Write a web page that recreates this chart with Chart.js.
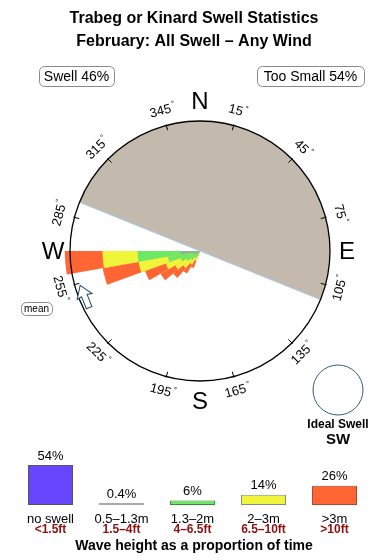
<!DOCTYPE html>
<html>
<head>
<meta charset="utf-8">
<script src="https://cdn.jsdelivr.net/npm/chart.js@4"></script>
<style>
  body { margin: 0; background: #fff; }
  #rose { position: absolute; left: 0; top: 0; }
  #bars { position: absolute; left: 0; top: 430px; }
</style>
</head>
<body>
<canvas id="rose" width="390" height="560"></canvas>
<canvas id="bars" width="390" height="130"></canvas>
<script>
// 10 degree direction bins, clockwise from north
const directions = [0, 10, 20, 30, 40, 50, 60, 70, 80, 90, 100, 110, 120, 130, 140, 150, 160, 170,
  180, 190, 200, 210, 220, 230, 240, 250, 260, 270, 280, 290, 300, 310, 320, 330, 340, 350];

// petals that carry swell (bin start bearing) and the share of each height class
const petalBins = [260, 250, 240, 230, 220, 210, 200];
const swell05to13 = [15, 6, 5, 4, 3, 2, 1];
const swell13to2 = [33, 19, 11, 8, 6, 4, 3];
const swell2to3 = [27, 23, 12, 10, 8, 6, 4];
const swellOver3 = [29, 28, 17, 13, 10, 8, 6];

const degreeTicks = [15, 45, 75, 105, 135, 165, 195, 225, 255, 285, 315, 345];
const compassPoints = ["N", "E", "S", "W"];
const shadowFrom = 292;   // sheltered half of the rose
const shadowTo = 112;
const meanBearing = 248;
const idealSwell = "SW";

const legendClasses = ["no swell", "0.5–1.3m", "1.3–2m", "2–3m", ">3m"];
const legendFeet = ["<1.5ft", "1.5–4ft", "4–6.5ft", "6.5–10ft", ">10ft"];
const legendPct = [54, 0.4, 6, 14, 26];
const legendText = ["54%", "0.4%", "6%", "14%", "26%"];

const RING = 100;            // value drawn on the compass circle
const RMAX = 150 / 1.3;      // scale max so the ring sits inside the chart area
const FONT = "'Liberation Sans', Arial, sans-serif";

// build one full 36-bin series per stacked layer (cumulative, so outer layers sit underneath)
function layer(...parts) {
  const out = directions.map(() => 0);
  petalBins.forEach((b, i) => {
    let sum = 0;
    parts.forEach(p => sum += p[i]);
    out[directions.indexOf(b)] = sum;
  });
  return out;
}

const rad = deg => (deg - 90) * Math.PI / 180;

const roseDecor = {
  id: "roseDecor",
  beforeDatasetsDraw(chart) {
    const ctx = chart.ctx;
    const r = chart.scales.r;
    const cx = r.xCenter, cy = r.yCenter;
    const R = r.getDistanceFromCenterForValue(RING);
    // sheltered half disk
    ctx.save();
    ctx.beginPath();
    ctx.moveTo(cx, cy);
    ctx.arc(cx, cy, R, rad(shadowFrom), rad(shadowTo + 360));
    ctx.closePath();
    ctx.fillStyle = "#c4b9ad";
    ctx.fill();
    ctx.beginPath();
    ctx.moveTo(cx + R * Math.cos(rad(shadowFrom)), cy + R * Math.sin(rad(shadowFrom)));
    ctx.lineTo(cx + R * Math.cos(rad(shadowTo)), cy + R * Math.sin(rad(shadowTo)));
    ctx.strokeStyle = "#a9cbe6";
    ctx.lineWidth = 1;
    ctx.stroke();
    ctx.restore();
  },
  afterDatasetsDraw(chart) {
    const ctx = chart.ctx;
    const r = chart.scales.r;
    const cx = r.xCenter, cy = r.yCenter;
    const R = r.getDistanceFromCenterForValue(RING);
    ctx.save();

    // titles
    ctx.fillStyle = "#000";
    ctx.textAlign = "center";
    ctx.textBaseline = "middle";
    ctx.font = "bold 16px " + FONT;
    ctx.fillText("Trabeg or Kinard Swell Statistics", 194, 19);
    ctx.fillText("February: All Swell – Any Wind", 194, 42);

    // swell / too small boxes
    const box = (x, y, w, h, txt, size) => {
      ctx.beginPath();
      ctx.roundRect(x + 0.5, y + 0.5, w, h, 5);
      ctx.strokeStyle = "#8a8a8a";
      ctx.lineWidth = 1;
      ctx.stroke();
      ctx.fillStyle = "#000";
      ctx.font = size + "px " + FONT;
      ctx.fillText(txt, x + w / 2, y + h / 2 + 1);
    };
    box(39, 66, 75, 20, "Swell 46%", 14);
    box(257, 66, 107, 20, "Too Small 54%", 14);
    box(21, 302, 31, 13, "mean", 10);

    // ring and ticks
    ctx.beginPath();
    ctx.arc(cx, cy, R, 0, Math.PI * 2);
    ctx.strokeStyle = "#000";
    ctx.lineWidth = 1.3;
    ctx.stroke();
    ctx.lineWidth = 1;
    degreeTicks.forEach(b => {
      const a = rad(b);
      ctx.beginPath();
      ctx.moveTo(cx + (R - 5) * Math.cos(a), cy + (R - 5) * Math.sin(a));
      ctx.lineTo(cx + (R + 1) * Math.cos(a), cy + (R + 1) * Math.sin(a));
      ctx.stroke();
      const lx = cx + (R + 15) * Math.cos(a), ly = cy + (R + 15) * Math.sin(a);
      const rot = (b > 90 && b < 270) ? b - 180 : (b > 180 ? b - 360 : b);
      ctx.save();
      ctx.translate(lx, ly);
      ctx.rotate(rot * Math.PI / 180);
      ctx.font = "13px " + FONT;
      const txt = String(b);
      const w = ctx.measureText(txt).width;
      ctx.fillText(txt, -2, 0);
      ctx.font = "8px " + FONT;
      ctx.fillText("°", w / 2 + 1, -4);
      ctx.restore();
    });

    // compass letters
    ctx.font = "24px " + FONT;
    compassPoints.forEach((p, i) => {
      const a = rad(i * 90);
      const d = i % 2 ? R + 17 : R + 20;
      ctx.fillText(p, cx + d * Math.cos(a), cy + d * Math.sin(a) + 1);
    });

    // mean direction arrow, tangent to the ring
    const ma = rad(meanBearing);
    const mr = R - 6;
    ctx.save();
    ctx.translate(cx + mr * Math.cos(ma), cy + mr * Math.sin(ma));
    ctx.rotate(ma + Math.PI);
    ctx.beginPath();
    ctx.moveTo(0, -13);
    ctx.lineTo(8, -1);
    ctx.lineTo(3, -2);
    ctx.lineTo(3, 11);
    ctx.lineTo(-3, 11);
    ctx.lineTo(-3, -2);
    ctx.lineTo(-8, -1);
    ctx.closePath();
    ctx.fillStyle = "#fff";
    ctx.fill();
    ctx.strokeStyle = "#27486a";
    ctx.lineWidth = 1;
    ctx.stroke();
    ctx.restore();

    // ideal swell marker
    ctx.beginPath();
    ctx.arc(338, 390, 25, 0, Math.PI * 2);
    ctx.strokeStyle = "#3a5d7f";
    ctx.lineWidth = 1;
    ctx.stroke();
    ctx.fillStyle = "#000";
    ctx.font = "bold 12px " + FONT;
    ctx.fillText("Ideal Swell", 338, 425);
    ctx.font = "bold 15px " + FONT;
    ctx.fillText(idealSwell, 338, 440);
    ctx.restore();
  }
};

new Chart(document.getElementById("rose"), {
  type: "polarArea",
  data: {
    labels: directions.map(d => d + "°"),
    datasets: [
      { label: "0.5–1.3m", data: layer(swell05to13), backgroundColor: "#8fae9e" },
      { label: "1.3–2m", data: layer(swell05to13, swell13to2), backgroundColor: "#6ee865" },
      { label: "2–3m", data: layer(swell05to13, swell13to2, swell2to3), backgroundColor: "#f0f53a" },
      { label: ">3m", data: layer(swell05to13, swell13to2, swell2to3, swellOver3), backgroundColor: "#ff6633" }
    ]
  },
  options: {
    responsive: false,
    animation: false,
    layout: { padding: { left: 50, right: 40, top: 101, bottom: 159 } },
    elements: { arc: { borderWidth: 0 } },
    plugins: { legend: { display: false }, tooltip: { enabled: false } },
    scales: {
      r: {
        min: 0, max: RMAX, startAngle: 0,
        ticks: { display: false },
        grid: { display: false },
        angleLines: { display: false },
        pointLabels: { display: false }
      }
    }
  },
  plugins: [roseDecor]
});

// legend bars below the rose
const legendDecor = {
  id: "legendDecor",
  afterDatasetsDraw(chart) {
    const ctx = chart.ctx;
    const x = chart.scales.x;
    const bars = chart.getDatasetMeta(0).data;
    ctx.save();
    ctx.textAlign = "center";
    ctx.textBaseline = "middle";
    legendClasses.forEach((c, i) => {
      const px = x.getPixelForValue(i);
      ctx.fillStyle = "#000";
      ctx.font = "13px " + FONT;
      ctx.fillText(legendText[i], px, Math.min(bars[i].y, bars[i].base - 2) - 9);
      ctx.fillText(c, px, 89);
      ctx.fillStyle = "#8b1010";
      ctx.font = "bold 12px " + FONT;
      ctx.fillText(legendFeet[i], px, 100);
    });
    ctx.fillStyle = "#000";
    ctx.font = "bold 14px " + FONT;
    ctx.fillText("Wave height as a proportion of time", 194, 116);
    ctx.restore();
  }
};

new Chart(document.getElementById("bars"), {
  type: "bar",
  data: {
    labels: legendClasses,
    datasets: [{
      data: legendPct,
      backgroundColor: ["#6647ff", "#d0d0d0", "#6ee865", "#f0f53a", "#ff6633"],
      borderColor: ["#555", "#aaa", "#3a8a3a", "#888", "#b04a2a"],
      borderWidth: 1,
      borderSkipped: false,
      minBarLength: 2,
      barPercentage: 0.634,
      categoryPercentage: 1
    }]
  },
  options: {
    responsive: false,
    animation: false,
    layout: { padding: { left: 15, right: 20, top: 35, bottom: 55 } },
    plugins: { legend: { display: false }, tooltip: { enabled: false } },
    scales: {
      x: { display: false },
      y: { display: false, min: 0, max: 54 }
    }
  },
  plugins: [legendDecor]
});
</script>
</body>
</html>
